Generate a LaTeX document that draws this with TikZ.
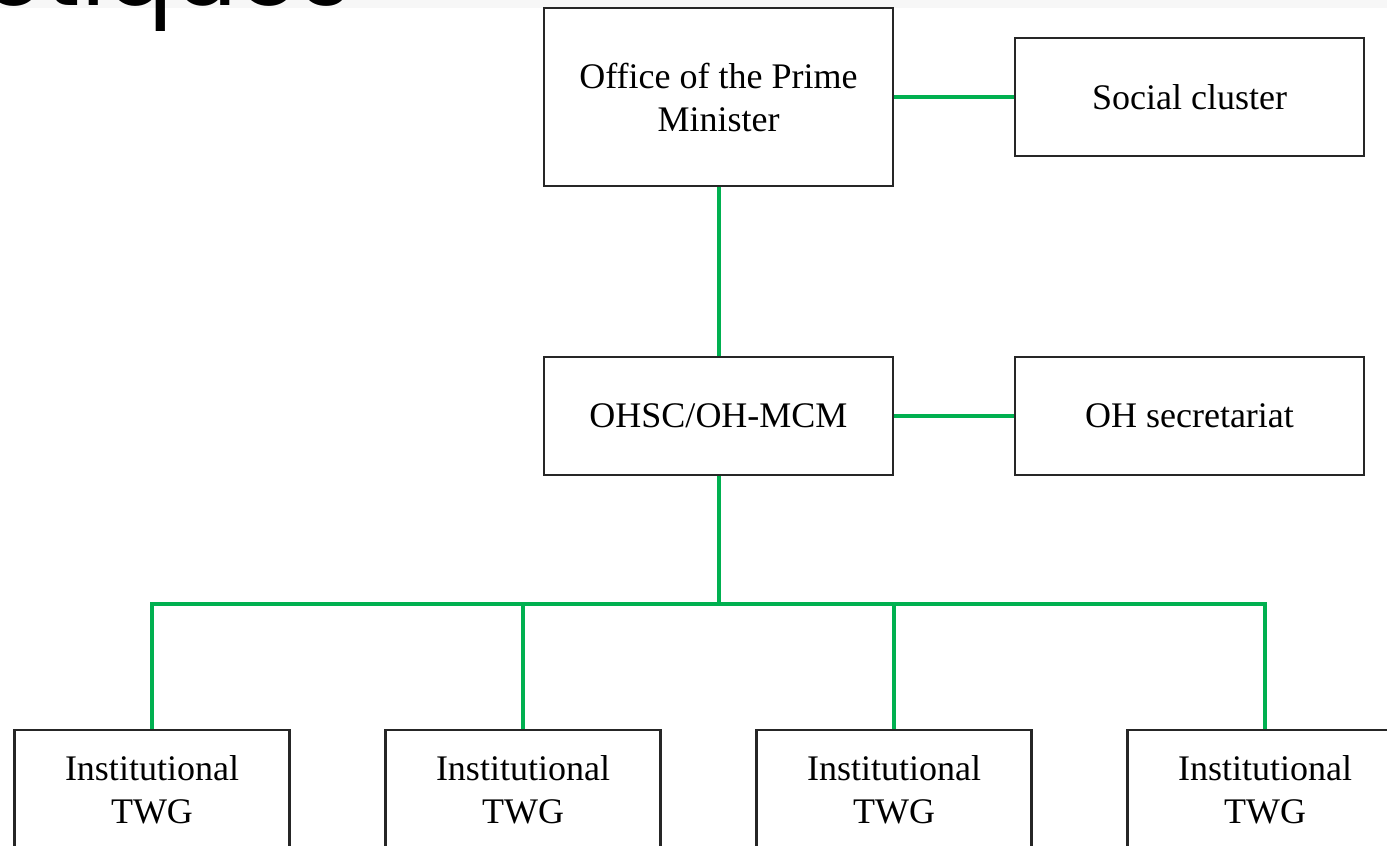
\documentclass[tikz,border=0pt]{standalone}
\usepackage{fontspec}
\setmainfont{Liberation Serif}
\newfontfamily\headfont{Poppins}
\usepackage{xcolor}
\usepackage{tikz}
\usetikzlibrary{positioning, calc}

\definecolor{ohgreen}{HTML}{00B050}
\definecolor{bandgray}{HTML}{F7F7F7}

\begin{document}
\begin{tikzpicture}[x=1pt, y=-1pt]
\tikzstyle{box} = [rectangle, draw=black!85, line width=2.2pt, inner sep=0pt, align=center, font=\fontsize{36}{43}\selectfont]
\tikzstyle{bigbox} = [box, minimum width=349pt, minimum height=178pt]
\tikzstyle{midbox} = [box, minimum width=349pt, minimum height=118pt]
\tikzstyle{twgbox} = [box, minimum width=275pt, minimum height=120pt]
\tikzstyle{link} = [draw=ohgreen, line width=4pt]

\useasboundingbox (0,0) rectangle (1387,846);
\clip (0,0) rectangle (1387,846);

% Slide band
\fill[bandgray] (0,0) rectangle (1387,8);
\node[anchor=base east, inner sep=0pt, font=\headfont\fontsize{100}{100}\selectfont] (head) at (352,5) {etiques};

% Top level
\node[bigbox] (pm) at (718.5,97) {Office of the Prime\\Minister};
\node[midbox] (social) at (1189.5,97) {Social cluster};

% Committee level
\node[midbox] (ohsc) at (718.5,416) {OHSC/OH-MCM};
\node[midbox] (secr) at (1189.5,416) {OH secretariat};

% Working groups
\node[twgbox] (twga) at (152,790) {Institutional\\TWG};
\node[twgbox] (twgb) at (523,790) {Institutional\\TWG};
\node[twgbox] (twgc) at (894,790) {Institutional\\TWG};
\node[twgbox] (twgd) at (1265,790) {Institutional\\TWG};

\coordinate (busl) at (152,604);
\coordinate (busr) at (1265,604);

% Connections
\draw[link] (pm) -- (social);
\draw[link] (pm) -- (ohsc);
\draw[link] (ohsc) -- (secr);
\draw[link] (ohsc.south) -- (ohsc.south |- busl);
\draw[link] (twga.north) |- (busr) -- (twgd.north);
\draw[link] (twgb.north) -- (twgb.north |- busl);
\draw[link] (twgc.north) -- (twgc.north |- busl);
\end{tikzpicture}
\end{document}
